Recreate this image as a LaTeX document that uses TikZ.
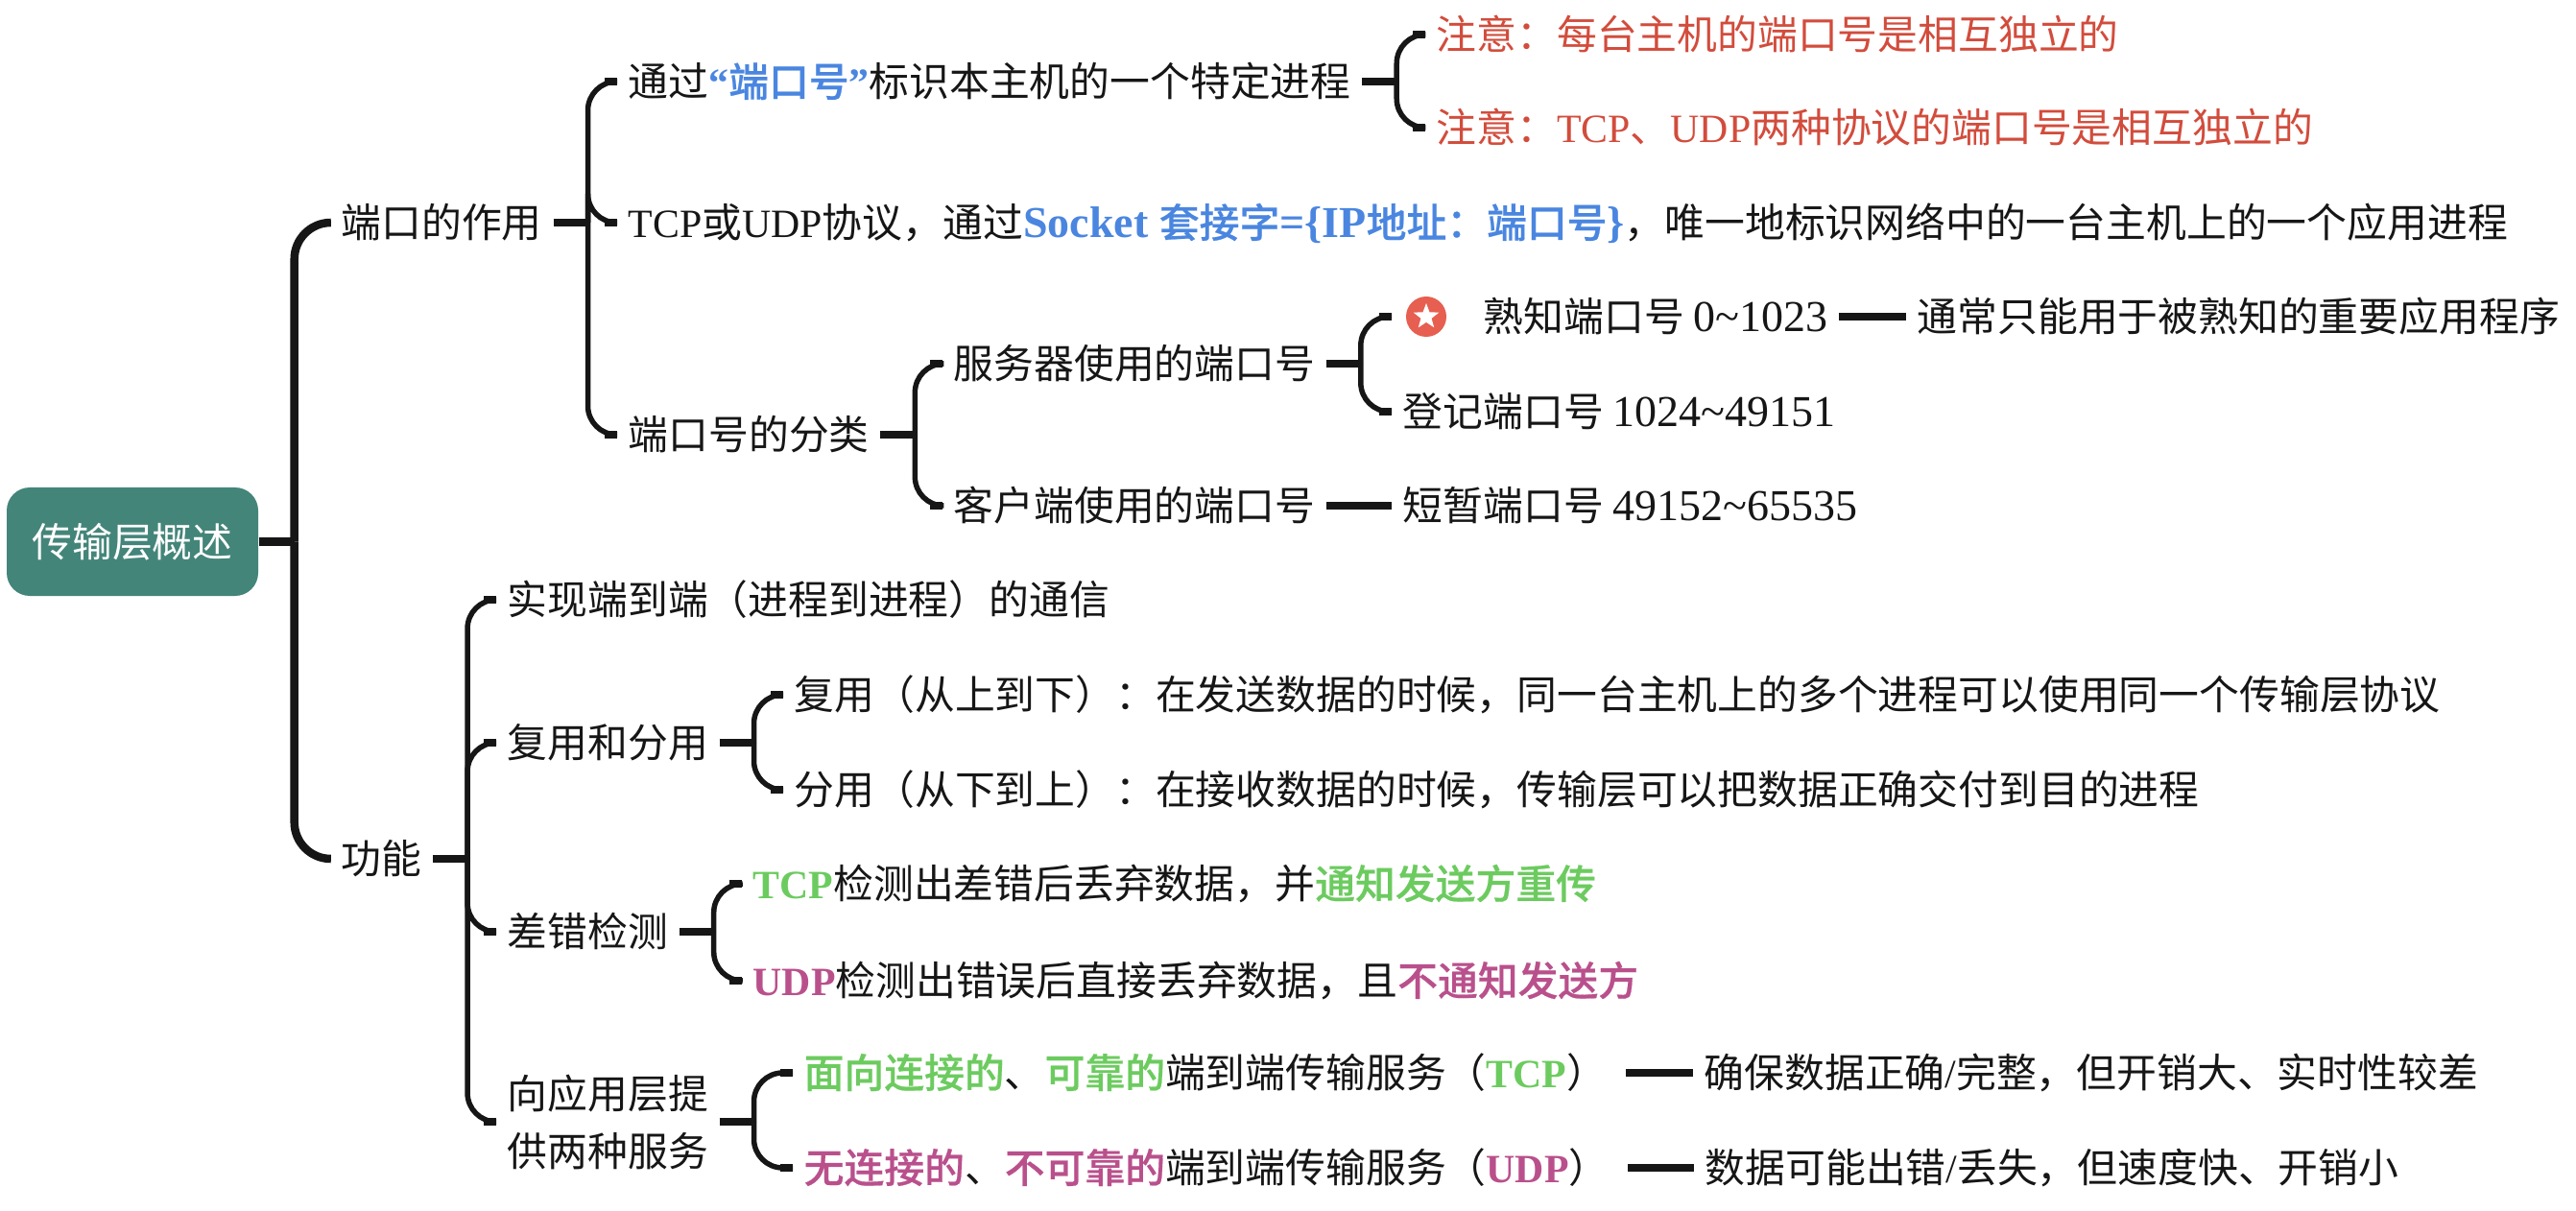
\documentclass[tikz,border=0pt]{standalone}
\usepackage{fontspec}
\setmainfont{Liberation Serif}
\newfontfamily\widelatin{Liberation Serif}[Scale=1.1]
\newfontfamily\cjk{Noto Sans CJK SC}[BoldFont={Noto Sans CJK SC Medium}, BoldFeatures={FakeBold=0.5}]
\usetikzlibrary{shapes.geometric}

% Latin runs inside the CJK text
\newcommand{\en}[1]{{\rmfamily #1}}
\newcommand{\wen}[1]{{\widelatin #1}}
\newcommand{\hl}[2]{{\color{#1}\bfseries #2}}

\definecolor{rootGreen}{HTML}{44857A}
\definecolor{inkBlack}{HTML}{161616}
\definecolor{noteRed}{HTML}{D24C3C}
\definecolor{keyBlue}{HTML}{4A86E0}
\definecolor{tcpGreen}{HTML}{6CCB5F}
\definecolor{udpPink}{HTML}{B9508C}
\definecolor{starRed}{HTML}{E65F50}

\tikzset{
	topic/.style={anchor=west, inner xsep=.11cm, inner ysep=0pt, text=inkBlack,
		font=\cjk\fontsize{11.9pt}{17.07pt}\selectfont},
	leaf/.style={topic, text height=.40cm, text depth=.09cm},
	note/.style={leaf, text=noteRed},
	rootbox/.style={rectangle, rounded corners=.24cm, fill=rootGreen, text=white,
		minimum width=2.62cm, minimum height=1.13cm, inner sep=0pt,
		font=\cjk\fontsize{11.9pt}{17.07pt}\selectfont},
	trunk/.style={draw=inkBlack, line width=.055cm, rounded corners=.3cm},
	roottrunk/.style={draw=inkBlack, line width=.085cm, rounded corners=.38cm},
	stem/.style={draw=inkBlack, line width=.075cm},
}

\begin{document}
\begin{tikzpicture}
	
	\useasboundingbox (0,0) rectangle (26.84,-12.62);
	
	% Root and the two main branches
	\node[rootbox] (root) at (1.38,-5.645) {传输层概述};
	\node[leaf] (ports) at (3.44,-2.32) {端口的作用};
	\node[leaf] (func) at (3.44,-8.95) {功能};
	
	% Upper half: port numbers
	\node[leaf] (portid) at (6.43,-0.85) {通过\hl{keyBlue}{\en{“}端口号\en{”}}标识本主机的一个特定进程};
	\node[leaf] (socket) at (6.43,-2.32) {\en{TCP}或\en{UDP}协议，通过\hl{keyBlue}{\wen{Socket }套接字\wen{=\{IP}地址：端口号\wen{\}}}，唯一地标识网络中的一台主机上的一个应用进程};
	\node[leaf] (kinds) at (6.43,-4.53) {端口号的分类};
	\node[note] (noteA) at (14.85,-0.36) {注意：每台主机的端口号是相互独立的};
	\node[note] (noteB) at (14.85,-1.33) {注意：\en{TCP}、\en{UDP}两种协议的端口号是相互独立的};
	\node[leaf] (server) at (9.82,-3.79) {服务器使用的端口号};
	\node[leaf] (client) at (9.82,-5.27) {客户端使用的端口号};
	\node[circle, fill=starRed, minimum size=.42cm, inner sep=0pt, outer sep=.15cm] (badge) at (14.86,-3.30) {};
	\node[star, star points=5, star point ratio=2.4, fill=white, minimum size=.28cm, inner sep=0pt] (badgeStar) at (badge.center) {};
	\node[leaf] (wellknown) at (15.34,-3.30) {熟知端口号 \wen{0\textasciitilde1023}};
	\node[leaf] (wellnote) at (19.86,-3.30) {通常只能用于被熟知的重要应用程序};
	\node[leaf] (registered) at (14.50,-4.29) {登记端口号 \wen{1024\textasciitilde49151}};
	\node[leaf] (ephemeral) at (14.50,-5.27) {短暂端口号 \wen{49152\textasciitilde65535}};
	
	% Lower half: functions
	\node[leaf] (endtoend) at (5.17,-6.25) {实现端到端（进程到进程）的通信};
	\node[leaf] (muxing) at (5.17,-7.74) {复用和分用};
	\node[leaf] (errcheck) at (5.17,-9.71) {差错检测};
	\node[topic, align=left] (services) at (5.17,-11.69) {向应用层提\\供两种服务};
	\node[leaf] (muxA) at (8.16,-7.24) {复用（从上到下）：在发送数据的时候，同一台主机上的多个进程可以使用同一个传输层协议};
	\node[leaf] (muxB) at (8.16,-8.23) {分用（从下到上）：在接收数据的时候，传输层可以把数据正确交付到目的进程};
	\node[leaf] (tcpcheck) at (7.73,-9.21) {\hl{tcpGreen}{\en{TCP}}检测出差错后丢弃数据，并\hl{tcpGreen}{通知发送方重传}};
	\node[leaf] (udpcheck) at (7.73,-10.22) {\hl{udpPink}{\en{UDP}}检测出错误后直接丢弃数据，且\hl{udpPink}{不通知发送方}};
	\node[leaf] (tcpsvc) at (8.26,-11.18) {\hl{tcpGreen}{面向连接的}、\hl{tcpGreen}{可靠的}端到端传输服务（\hl{tcpGreen}{\en{TCP}}）};
	\node[leaf] (udpsvc) at (8.26,-12.17) {\hl{udpPink}{无连接的}、\hl{udpPink}{不可靠的}端到端传输服务（\hl{udpPink}{\en{UDP}}）};
	\node[leaf] (tcpnote) at (17.64,-11.18) {确保数据正确\en{/}完整，但开销大、实时性较差};
	\node[leaf] (udpnote) at (17.65,-12.17) {数据可能出错\en{/}丢失，但速度快、开销小};
	
	% Root brackets
	\draw[stem, line width=.085cm] (root.east) -- ++(.37,0);
	\foreach \kid in {ports, func} {
		\draw[roottrunk] (root.east) ++(.37,0) |- (\kid.west);
	}
	
	% Brackets from each parent to its children
	\foreach \up/\kids in {ports/{portid,socket,kinds}, portid/{noteA,noteB}, kinds/{server,client},
		server/{badge,registered}, func/{endtoend,muxing,errcheck,services}, muxing/{muxA,muxB},
		errcheck/{tcpcheck,udpcheck}, services/{tcpsvc,udpsvc}} {
		\draw[stem] (\up.east) -- ++(.36,0);
		\foreach \kid in \kids {
			\draw[trunk] (\up.east) ++(.36,0) |- (\kid.west);
			\draw[stem] (\kid.west) -- ++(-.13,0);
		}
	}
	
	% Single straight links
	\draw[stem] (client) -- (ephemeral);
	\draw[stem] (wellknown) -- (wellnote);
	\draw[stem, shorten <=.08cm] (tcpsvc) -- (tcpnote);
	\draw[stem, shorten <=.08cm] (udpsvc) -- (udpnote);
	
\end{tikzpicture}
\end{document}
